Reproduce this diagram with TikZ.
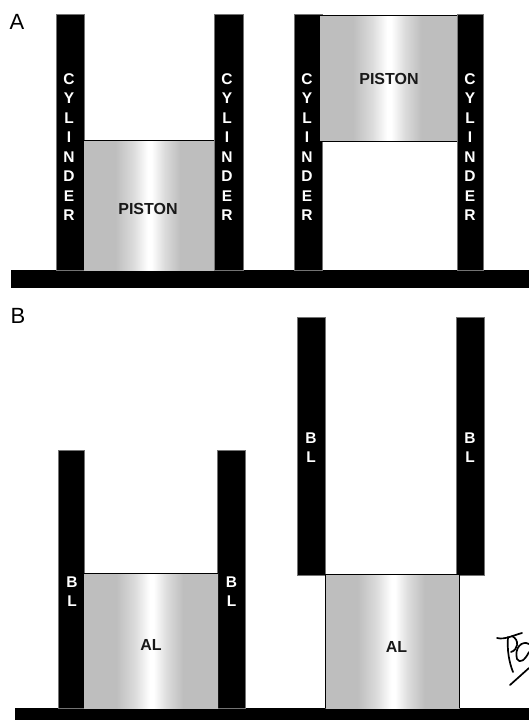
\documentclass[tikz,border=0pt]{standalone}
\usepackage{fontspec}
\setmainfont{Liberation Sans}
\definecolor{pgray}{gray}{0.745}
\pgfdeclarehorizontalshading{pistonshade}{100bp}{
  color(0bp)=(pgray); color(37bp)=(pgray); color(44bp)=(pgray!55!white);
  color(49.5bp)=(white); color(51bp)=(white); color(56bp)=(pgray!55!white); color(62bp)=(pgray); color(100bp)=(pgray)}
\tikzset{
  wall/.style={fill=black,draw=black!55,line width=0.4pt},
  base/.style={fill=black,draw=none},
  piston/.style={shading=pistonshade,draw=none},
  rim/.style={draw=black,line width=1pt},
  vlabel/.style={text=white,font=\fontsize{15.5}{19.5}\selectfont\bfseries,align=center,inner sep=0pt},
  plabel/.style={text=black!90,font=\fontsize{16}{18}\selectfont\bfseries,inner sep=0pt},
  alabel/.style={text=black!90,font=\fontsize{16}{18}\selectfont\bfseries,inner sep=0pt},
  panel/.style={text=black,font=\fontsize{22}{24}\selectfont,inner sep=0pt},
  sign/.style={draw=black,line width=1.7pt,line cap=round,line join=round}
}
\begin{document}
\begin{tikzpicture}[x=1pt,y=-1pt]
\useasboundingbox (0,0) rectangle (529,720);
\fill[white] (0,0) rectangle (529,720);
% panel A, left
\fill[base] (11,270) rectangle (529,288);
\draw[wall] (56,14) rectangle (84,270);
\draw[wall] (214,14) rectangle (243,270);
\path[piston] (84,140) rectangle (214,270);
\draw[rim] (84,140) -- (214,140);
\node[vlabel] (cl1) at (69,147) {C\\Y\\L\\I\\N\\D\\E\\R};
\node[vlabel] (cr1) at (227,147) {C\\Y\\L\\I\\N\\D\\E\\R};
\node[plabel] (p1) at (148,209) {PISTON};
% panel A, right
\draw[wall] (294,14) rectangle (322,270);
\draw[wall] (457,14) rectangle (483,270);
\path[piston] (320,15) rectangle (457,140);
\draw[rim] (320,141) -- (457,141);
\draw[rim] (320,15) -- (457,15);
\node[vlabel] (cl2) at (307,147) {C\\Y\\L\\I\\N\\D\\E\\R};
\node[vlabel] (cr2) at (470,147) {C\\Y\\L\\I\\N\\D\\E\\R};
\node[plabel] (p2) at (389,79) {PISTON};
% panel B, left
\fill[base] (15,708) rectangle (529,720);
\draw[wall] (58,450) rectangle (84,708);
\draw[wall] (217,450) rectangle (245,708);
\path[piston] (84,573) rectangle (218,708);
\draw[rim] (84,573) -- (218,573);
\node[vlabel] (bl1) at (72,591.5) {B\\L};
\node[vlabel] (br1) at (231.5,591.5) {B\\L};
\node[alabel] (a1) at (151,645) {AL};
% panel B, right
\draw[wall] (297,317) rectangle (325,575.5);
\draw[wall] (456,317) rectangle (484,575.5);
\path[piston] (325.5,574.5) rectangle (459.5,708);
\draw[rim] (325.5,708) -- (325.5,574.5) -- (459.5,574.5) -- (459.5,708);
\node[vlabel] (bl2) at (311,447.5) {B\\L};
\node[vlabel] (br2) at (470,447.5) {B\\L};
\node[alabel] (a2) at (396.5,647) {AL};
% panel letters
\node[panel] (A) at (17,22) {A};
\node[panel] (B) at (18,316) {B};
% handwritten initials
\draw[sign] (497,638) .. controls (505,640) and (514,635) .. (522,633);
\draw[sign] (508,637) .. controls (507,650) and (509,662) .. (513,672);
\draw[sign] (512,636) .. controls (520,640) and (518,650) .. (511,652);
\draw[sign] (529,644) .. controls (522,640) and (514,648) .. (517,659)
  .. controls (520,664) and (525,660) .. (529,652);
\draw[sign] (510,685) -- (529,668);
\end{tikzpicture}
\end{document}
